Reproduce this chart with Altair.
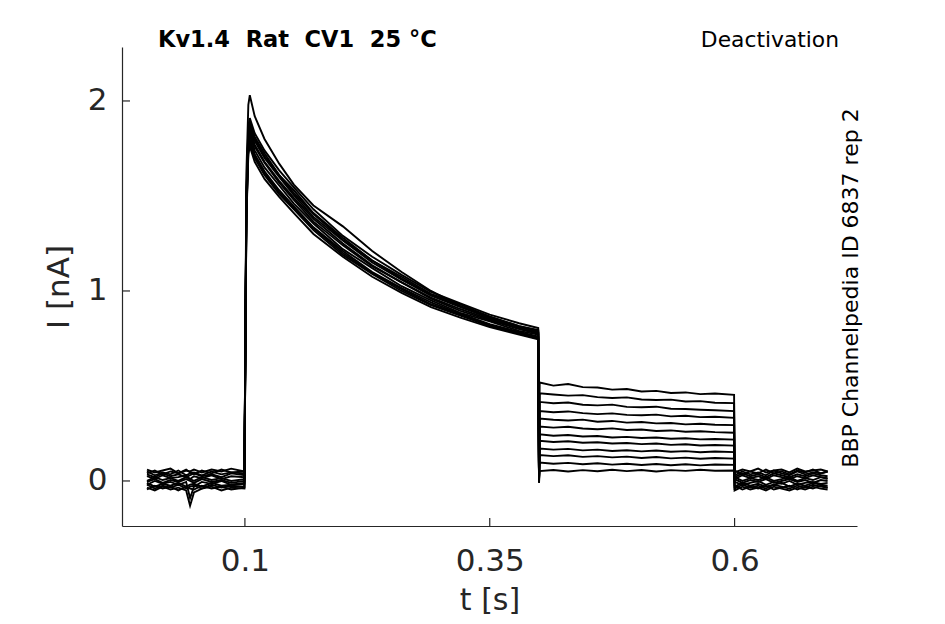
import altair as alt
import pandas as pd

# ---- time grids (s) ----
T_PRE = [0.0, 0.008, 0.016, 0.024, 0.032, 0.040, 0.044, 0.048, 0.056, 0.066, 0.076, 0.086, 0.0995]
T_PULSE = [0.1015, 0.1035, 0.105, 0.11, 0.12, 0.135, 0.15, 0.17, 0.2, 0.23, 0.26, 0.29, 0.32, 0.35, 0.38, 0.3995]
T_DIP = [0.4003]
T_TAIL = [0.401, 0.415, 0.43, 0.445, 0.46, 0.475, 0.49, 0.505, 0.52, 0.535, 0.55, 0.565, 0.58, 0.5995]
T_POST = [0.6, 0.608, 0.616, 0.624, 0.632, 0.640, 0.648, 0.656, 0.664, 0.672, 0.680, 0.688, 0.695]

# ---- current values (nA), one list per sweep ----
PRE = [
    [0.05, 0.03, 0.045, 0.035, 0.055, 0.03, 0.04, 0.045, 0.03, 0.05, 0.035, 0.045, 0.04],
    [-0.01, -0.03, -0.015, -0.025, -0.01, -0.03, -0.02, -0.015, -0.03, -0.01, -0.025, -0.02, -0.015],
    [0.025, 0.01, 0.03, 0.015, 0.02, 0.03, 0.01, 0.025, 0.015, 0.03, 0.01, 0.025, 0.02],
    [-0.005, 0.01, -0.01, 0.005, -0.005, 0.01, 0.0, -0.01, 0.01, -0.005, 0.005, -0.01, 0.0],
    [-0.035, -0.05, -0.03, -0.045, -0.035, -0.05, -0.13, -0.06, -0.04, -0.03, -0.05, -0.035, -0.04],
    [0.06, 0.045, 0.055, 0.065, 0.04, 0.055, 0.05, 0.06, 0.045, 0.06, 0.05, 0.065, 0.05],
    [0.0, 0.02, 0.005, 0.015, 0.0, 0.02, 0.01, 0.0, 0.02, 0.005, 0.015, 0.0, 0.01],
    [-0.02, -0.04, -0.025, -0.035, -0.02, -0.04, -0.03, -0.025, -0.04, -0.02, -0.035, -0.025, -0.03],
    [0.035, 0.02, 0.04, 0.025, 0.035, 0.02, 0.03, 0.04, 0.025, 0.035, 0.02, 0.04, 0.03],
    [-0.02, 0.0, -0.015, -0.005, -0.02, -0.005, -0.09, -0.03, -0.005, -0.015, 0.0, -0.02, -0.01],
    [0.04, 0.055, 0.035, 0.05, 0.04, 0.06, 0.045, 0.035, 0.055, 0.04, 0.06, 0.045, 0.05],
    [-0.045, -0.025, -0.04, -0.03, -0.05, -0.03, -0.04, -0.045, -0.025, -0.04, -0.03, -0.045, -0.035],
]

PULSE = [
    [1.50, 1.85, 1.89, 1.81, 1.725, 1.61, 1.53, 1.41, 1.28, 1.16, 1.075, 0.985, 0.93, 0.865, 0.815, 0.795],
    [1.43, 1.78, 1.82, 1.74, 1.65, 1.555, 1.46, 1.355, 1.22, 1.12, 1.025, 0.95, 0.885, 0.84, 0.79, 0.77],
    [1.48, 1.83, 1.87, 1.79, 1.70, 1.60, 1.505, 1.39, 1.265, 1.15, 1.06, 0.975, 0.915, 0.86, 0.81, 0.785],
    [1.62, 1.98, 2.03, 1.92, 1.80, 1.67, 1.56, 1.45, 1.34, 1.21, 1.10, 1.00, 0.92, 0.855, 0.805, 0.78],
    [1.39, 1.74, 1.78, 1.70, 1.61, 1.51, 1.43, 1.32, 1.19, 1.09, 1.00, 0.925, 0.87, 0.815, 0.775, 0.75],
    [1.52, 1.87, 1.91, 1.83, 1.74, 1.635, 1.545, 1.43, 1.29, 1.18, 1.085, 0.995, 0.935, 0.875, 0.83, 0.805],
    [1.45, 1.80, 1.84, 1.76, 1.675, 1.57, 1.48, 1.365, 1.24, 1.13, 1.045, 0.96, 0.895, 0.845, 0.80, 0.775],
    [1.41, 1.76, 1.80, 1.72, 1.63, 1.53, 1.445, 1.335, 1.21, 1.10, 1.015, 0.94, 0.88, 0.825, 0.785, 0.76],
    [1.46, 1.81, 1.85, 1.77, 1.68, 1.58, 1.49, 1.38, 1.25, 1.135, 1.045, 0.965, 0.905, 0.85, 0.805, 0.78],
    [1.37, 1.72, 1.76, 1.68, 1.59, 1.495, 1.41, 1.30, 1.18, 1.075, 0.99, 0.915, 0.86, 0.81, 0.77, 0.745],
    [1.49, 1.84, 1.88, 1.80, 1.71, 1.61, 1.515, 1.405, 1.27, 1.16, 1.065, 0.98, 0.92, 0.865, 0.815, 0.79],
    [1.40, 1.75, 1.79, 1.71, 1.62, 1.52, 1.435, 1.33, 1.20, 1.095, 1.01, 0.93, 0.875, 0.82, 0.78, 0.755],
]

DIP = [0.0, 0.005, -0.005, 0.0, 0.01, -0.01, 0.0, 0.005, -0.005, 0.0, 0.01, -0.01]

TAIL = [
    [0.518, 0.502, 0.510, 0.494, 0.492, 0.481, 0.484, 0.471, 0.474, 0.463, 0.466, 0.457, 0.460, 0.453],
    [0.462, 0.455, 0.449, 0.452, 0.441, 0.437, 0.440, 0.429, 0.426, 0.428, 0.418, 0.420, 0.412, 0.410],
    [0.416, 0.409, 0.413, 0.401, 0.398, 0.402, 0.390, 0.388, 0.391, 0.380, 0.379, 0.375, 0.372, 0.368],
    [0.368, 0.362, 0.366, 0.357, 0.352, 0.356, 0.348, 0.346, 0.349, 0.340, 0.343, 0.336, 0.338, 0.332],
    [0.328, 0.322, 0.318, 0.323, 0.312, 0.316, 0.307, 0.310, 0.303, 0.305, 0.298, 0.301, 0.296, 0.294],
    [0.287, 0.281, 0.285, 0.276, 0.272, 0.277, 0.268, 0.271, 0.263, 0.266, 0.259, 0.262, 0.257, 0.254],
    [0.245, 0.238, 0.242, 0.234, 0.237, 0.229, 0.232, 0.226, 0.229, 0.222, 0.225, 0.219, 0.221, 0.218],
    [0.212, 0.205, 0.209, 0.201, 0.204, 0.197, 0.200, 0.194, 0.197, 0.190, 0.193, 0.187, 0.189, 0.186],
    [0.171, 0.165, 0.169, 0.161, 0.165, 0.158, 0.162, 0.156, 0.160, 0.154, 0.157, 0.151, 0.155, 0.152],
    [0.137, 0.131, 0.135, 0.127, 0.131, 0.124, 0.128, 0.121, 0.126, 0.119, 0.123, 0.117, 0.121, 0.118],
    [0.097, 0.091, 0.095, 0.088, 0.093, 0.086, 0.091, 0.084, 0.089, 0.083, 0.088, 0.082, 0.087, 0.085],
    [0.052, 0.058, 0.050, 0.057, 0.051, 0.059, 0.052, 0.058, 0.050, 0.057, 0.053, 0.059, 0.054, 0.055],
]

POST = [
    [0.03, 0.05, 0.035, 0.045, 0.03, 0.055, 0.04, 0.03, 0.05, 0.035, 0.045, 0.04, 0.05],
    [-0.03, -0.01, -0.025, -0.015, -0.03, -0.02, -0.01, -0.03, -0.015, -0.025, -0.01, -0.02, -0.025],
    [0.01, 0.03, 0.015, 0.025, 0.01, 0.03, 0.02, 0.01, 0.025, 0.015, 0.03, 0.02, 0.015],
    [0.01, -0.01, 0.005, -0.005, 0.01, -0.01, 0.0, 0.01, -0.005, 0.005, -0.01, 0.005, 0.0],
    [-0.05, -0.03, -0.045, -0.035, -0.05, -0.03, -0.04, -0.05, -0.035, -0.045, -0.03, -0.04, -0.045],
    [0.045, 0.06, 0.05, 0.065, 0.045, 0.055, 0.06, 0.045, 0.065, 0.05, 0.055, 0.06, 0.05],
    [0.02, 0.0, 0.015, 0.005, 0.02, 0.0, 0.01, 0.02, 0.0, 0.015, 0.005, 0.02, 0.01],
    [-0.04, -0.02, -0.035, -0.025, -0.04, -0.02, -0.03, -0.04, -0.025, -0.035, -0.02, -0.03, -0.035],
    [0.02, 0.04, 0.025, 0.035, 0.02, 0.04, 0.03, 0.02, 0.035, 0.025, 0.04, 0.03, 0.025],
    [-0.005, -0.02, -0.01, 0.0, -0.02, -0.005, -0.015, 0.0, -0.02, -0.01, -0.005, -0.015, -0.01],
    [0.055, 0.035, 0.05, 0.04, 0.06, 0.04, 0.05, 0.035, 0.055, 0.045, 0.06, 0.04, 0.05],
    [-0.025, -0.045, -0.03, -0.04, -0.025, -0.045, -0.035, -0.025, -0.045, -0.03, -0.04, -0.025, -0.035],
]

X_TICKS = [0.1, 0.35, 0.6]
Y_TICKS = [0, 1, 2]
X_DOMAIN = [-0.0255, 0.725]
Y_DOMAIN = [-0.237, 2.284]

NB = "\u00a0"
TITLE_LEFT = f"Kv1.4 {NB}Rat {NB}CV1 {NB}25 °C"
TITLE_RIGHT = "Deactivation"
SIDE_TEXT = "BBP Channelpedia ID 6837 rep 2"
X_TITLE = "t [s]"
Y_TITLE = "I [nA]"

FONT = "DejaVu Sans"
AXIS_COLOR = "#262626"

# ---- build long table ----
rows = []
all_t = T_PRE + T_PULSE + T_DIP + T_TAIL + T_POST
for k in range(len(PRE)):
    vals = PRE[k] + PULSE[k] + [DIP[k]] + TAIL[k] + POST[k]
    for i, (t, v) in enumerate(zip(all_t, vals)):
        rows.append({"sweep": k, "idx": i, "t": t, "I": v})
df = pd.DataFrame(rows)

xscale = alt.Scale(domain=X_DOMAIN, nice=False, zero=False)
yscale = alt.Scale(domain=Y_DOMAIN, nice=False, zero=False)

xaxis = alt.Axis(values=X_TICKS, format=".2~f", grid=False,
                 ticks=False, tickSize=0, labelPadding=20, titlePadding=9,
                 labelFontSize=31, titleFontSize=30, labelFont=FONT, titleFont=FONT,
                 titleFontWeight="normal", labelColor=AXIS_COLOR, titleColor=AXIS_COLOR,
                 domainColor=AXIS_COLOR, domainWidth=1.2)
yaxis = alt.Axis(values=Y_TICKS, format="d", grid=False,
                 ticks=False, tickSize=0, labelPadding=15, titlePadding=12,
                 labelFontSize=31, titleFontSize=31, labelFont=FONT, titleFont=FONT,
                 titleFontWeight="normal", labelColor=AXIS_COLOR, titleColor=AXIS_COLOR,
                 domainColor=AXIS_COLOR, domainWidth=1.2)

lines = alt.Chart(df).mark_line(color="black", strokeWidth=1.9, clip=True).encode(
    x=alt.X("t:Q", scale=xscale, axis=xaxis, title=X_TITLE),
    y=alt.Y("I:Q", scale=yscale, axis=yaxis, title=Y_TITLE),
    detail="sweep:N",
    order="idx:Q",
)

ytick_df = pd.DataFrame({"v": Y_TICKS})
xtick_df = pd.DataFrame({"v": X_TICKS})

yticks = alt.Chart(ytick_df).mark_rule(color=AXIS_COLOR, strokeWidth=1.2).encode(
    y=alt.Y("v:Q", scale=yscale, axis=yaxis, title=Y_TITLE),
    x=alt.value(0), x2=alt.value(8),
)
xticks = alt.Chart(xtick_df).mark_rule(color=AXIS_COLOR, strokeWidth=1.2).encode(
    x=alt.X("v:Q", scale=xscale, axis=xaxis, title=X_TITLE),
    y=alt.value(479), y2=alt.value(471),
)

title_df = pd.DataFrame({"txt": [TITLE_LEFT]})
right_df = pd.DataFrame({"txt": [TITLE_RIGHT]})
side_df = pd.DataFrame({"txt": [SIDE_TEXT]})

title_left = alt.Chart(title_df).mark_text(
    font=FONT, fontSize=22.5, fontWeight="bold", color="black", align="left", baseline="alphabetic"
).encode(text="txt:N", x=alt.value(36), y=alt.value(0))

title_right = alt.Chart(right_df).mark_text(
    font=FONT, fontSize=21.8, color="black", align="right", baseline="alphabetic"
).encode(text="txt:N", x=alt.value(717), y=alt.value(0))

side = alt.Chart(side_df).mark_text(
    font=FONT, fontSize=22, color="black", align="center", baseline="middle", angle=270
).encode(text="txt:N", x=alt.value(729), y=alt.value(241))

chart = alt.layer(lines, yticks, xticks, title_left, title_right, side).properties(
    width=735, height=479,
    autosize=alt.AutoSizeParams(type="none"),
    padding={"left": 114, "top": 39, "right": 80, "bottom": 90},
    background="white",
).configure_view(stroke=None)

chart.save("out.html", embed_options={"renderer": "svg", "actions": False})
